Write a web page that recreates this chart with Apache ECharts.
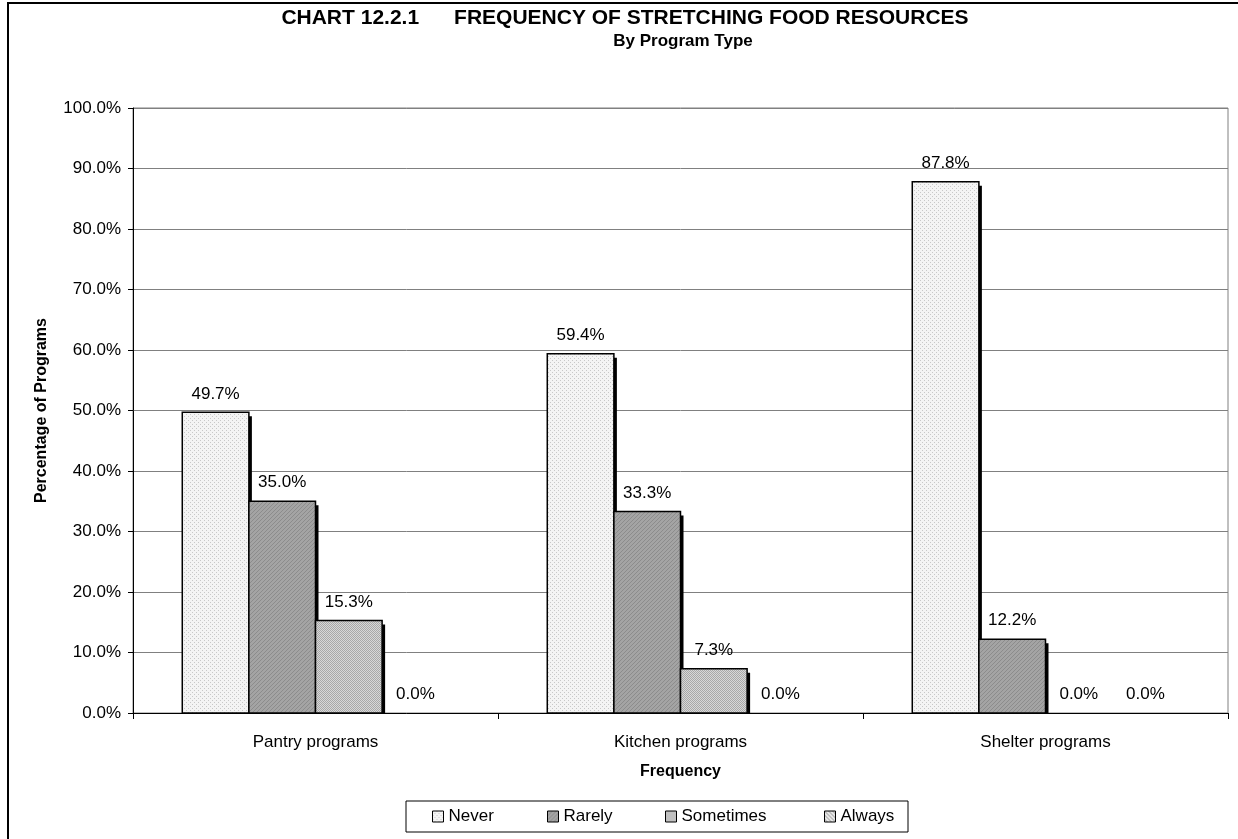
<!DOCTYPE html>
<html>
<head>
<meta charset="utf-8">
<script src="https://cdn.jsdelivr.net/npm/echarts@6/dist/echarts.min.js"></script>
<style>
  html, body { margin: 0; padding: 0; background: #fff; }
  #chart { width: 1238px; height: 839px; }
</style>
</head>
<body>
<div id="chart"></div>
<script>
  // data
  var categories = ['Pantry programs', 'Kitchen programs', 'Shelter programs'];
  var seriesNames = ['Never', 'Rarely', 'Sometimes', 'Always'];
  var never = [49.7, 59.4, 87.8];
  var rarely = [35.0, 33.3, 12.2];
  var sometimes = [15.3, 7.3, 0.0];
  var always = [0.0, 0.0, 0.0];
  var yTicks = [0, 10, 20, 30, 40, 50, 60, 70, 80, 90, 100];

  // little pattern tiles like the Excel fills
  function makePattern(bg, fg, cells) {
    var c = document.createElement('canvas');
    c.width = 4; c.height = 4;
    var ctx = c.getContext('2d');
    ctx.fillStyle = bg;
    ctx.fillRect(0, 0, 4, 4);
    ctx.fillStyle = fg;
    cells.forEach(function (p) { ctx.fillRect(p[0], p[1], 1, 1); });
    return { image: c, repeat: 'repeat' };
  }

  var fills = [
    makePattern('#f4f4f4', '#c8c8c8', [[0, 0], [2, 2]]),
    makePattern('#a4a4a4', '#8c8c8c', [[0, 0], [2, 2], [1, 3], [3, 1]]),
    makePattern('#d8d8d8', '#a8a8a8', [[0, 0], [2, 0], [1, 1], [3, 1], [0, 2], [2, 2], [1, 3], [3, 3]]),
    makePattern('#e6e6e6', '#9a9a9a', [[0, 0], [1, 1], [2, 2], [3, 3]])
  ];

  var dataSets = [never, rarely, sometimes, always];
  var legendLefts = [432, 547, 665, 824];
  var groupGap = 0.27;

  var font = 'Arial, "Liberation Sans", sans-serif';

  // bars with a hard black drop shadow on the right, Excel style
  function renderBar(params, api) {
    var si = params.seriesIndex;
    var cat = api.value(0);
    var val = api.value(1);
    var base = api.coord([cat, 0]);
    var top = api.coord([cat, val]);
    var band = api.size([1, 0])[0];
    var bw = band * (1 - groupGap) / seriesNames.length;
    var x = base[0] - bw * seriesNames.length / 2 + si * bw;
    var h = base[1] - top[1];
    var kids = [];
    if (h > 0.5) {
      kids.push({
        type: 'rect',
        shape: { x: x + 3, y: top[1] + 4, width: bw, height: Math.max(h - 4, 0) },
        style: { fill: '#000' }
      });
      kids.push({
        type: 'rect',
        shape: { x: x, y: top[1], width: bw, height: h },
        style: { fill: api.visual('color'), stroke: '#000', lineWidth: 1.5 }
      });
    }
    kids.push({
      type: 'text',
      x: x + bw / 2,
      y: top[1] - 10,
      style: {
        text: val.toFixed(1) + '%',
        align: 'center',
        verticalAlign: 'bottom',
        font: '17px ' + font,
        fill: '#000'
      }
    });
    return { type: 'group', children: kids };
  }

  var series = dataSets.map(function (d, i) {
    return {
      name: seriesNames[i],
      type: 'custom',
      renderItem: renderBar,
      encode: { x: 0, y: 1 },
      data: d.map(function (v, j) { return [j, v]; }),
      itemStyle: { color: fills[i], borderColor: '#000', borderWidth: 1 }
    };
  });

  var legends = seriesNames.map(function (n, i) {
    return {
      data: [n],
      left: legendLefts[i],
      top: 808,
      padding: 0,
      itemWidth: 11,
      itemHeight: 11,
      itemGap: 5,
      icon: 'rect',
      textStyle: { color: '#000', fontFamily: font, fontSize: 17 },
      itemStyle: { color: fills[i], borderColor: '#000', borderWidth: 1 }
    };
  });

  var chart = echarts.init(document.getElementById('chart'));
  chart.setOption({
    animation: false,
    backgroundColor: '#fff',
    grid: {
      left: 133,
      right: 10,
      top: 108,
      bottom: 126,
      show: true,
      borderColor: '#808080',
      borderWidth: 1
    },
    legend: legends,
    graphic: [
      { type: 'rect', shape: { x: 8, y: 3, width: 1240, height: 850 }, style: { fill: 'none', stroke: '#000', lineWidth: 2 }, silent: true },
      { type: 'rect', shape: { x: 406, y: 801, width: 502, height: 31 }, style: { fill: 'none', stroke: '#000', lineWidth: 1 }, silent: true },
      { type: 'text', x: 625, y: 18, style: { text: 'CHART 12.2.1      FREQUENCY OF STRETCHING FOOD RESOURCES', align: 'center', verticalAlign: 'middle', font: 'bold 21px ' + font, fill: '#000' } },
      { type: 'text', x: 683, y: 41, style: { text: 'By Program Type', align: 'center', verticalAlign: 'middle', font: 'bold 17px ' + font, fill: '#000' } }
    ],
    xAxis: {
      type: 'category',
      data: categories,
      name: 'Frequency',
      nameLocation: 'middle',
      nameGap: 51,
      nameTextStyle: { color: '#000', fontFamily: font, fontSize: 16, fontWeight: 'bold' },
      axisLine: { lineStyle: { color: '#000', width: 1 } },
      axisTick: { show: true, length: 6, lineStyle: { color: '#000' } },
      axisLabel: { color: '#000', fontFamily: font, fontSize: 17, margin: 21 },
      splitLine: { show: false }
    },
    yAxis: {
      type: 'value',
      min: yTicks[0],
      max: yTicks[yTicks.length - 1],
      interval: 10,
      name: 'Percentage of Programs',
      nameLocation: 'middle',
      nameGap: 83,
      nameTextStyle: { color: '#000', fontFamily: font, fontSize: 16, fontWeight: 'bold' },
      axisLine: { show: true, lineStyle: { color: '#000', width: 1 } },
      axisTick: { show: true, length: 5, lineStyle: { color: '#000' } },
      axisLabel: {
        color: '#000',
        fontFamily: font,
        fontSize: 17,
        margin: 12,
        formatter: function (v) { return v.toFixed(1) + '%'; }
      },
      splitLine: { show: true, lineStyle: { color: '#808080', width: 1 } }
    },
    series: series
  });
</script>
</body>
</html>
